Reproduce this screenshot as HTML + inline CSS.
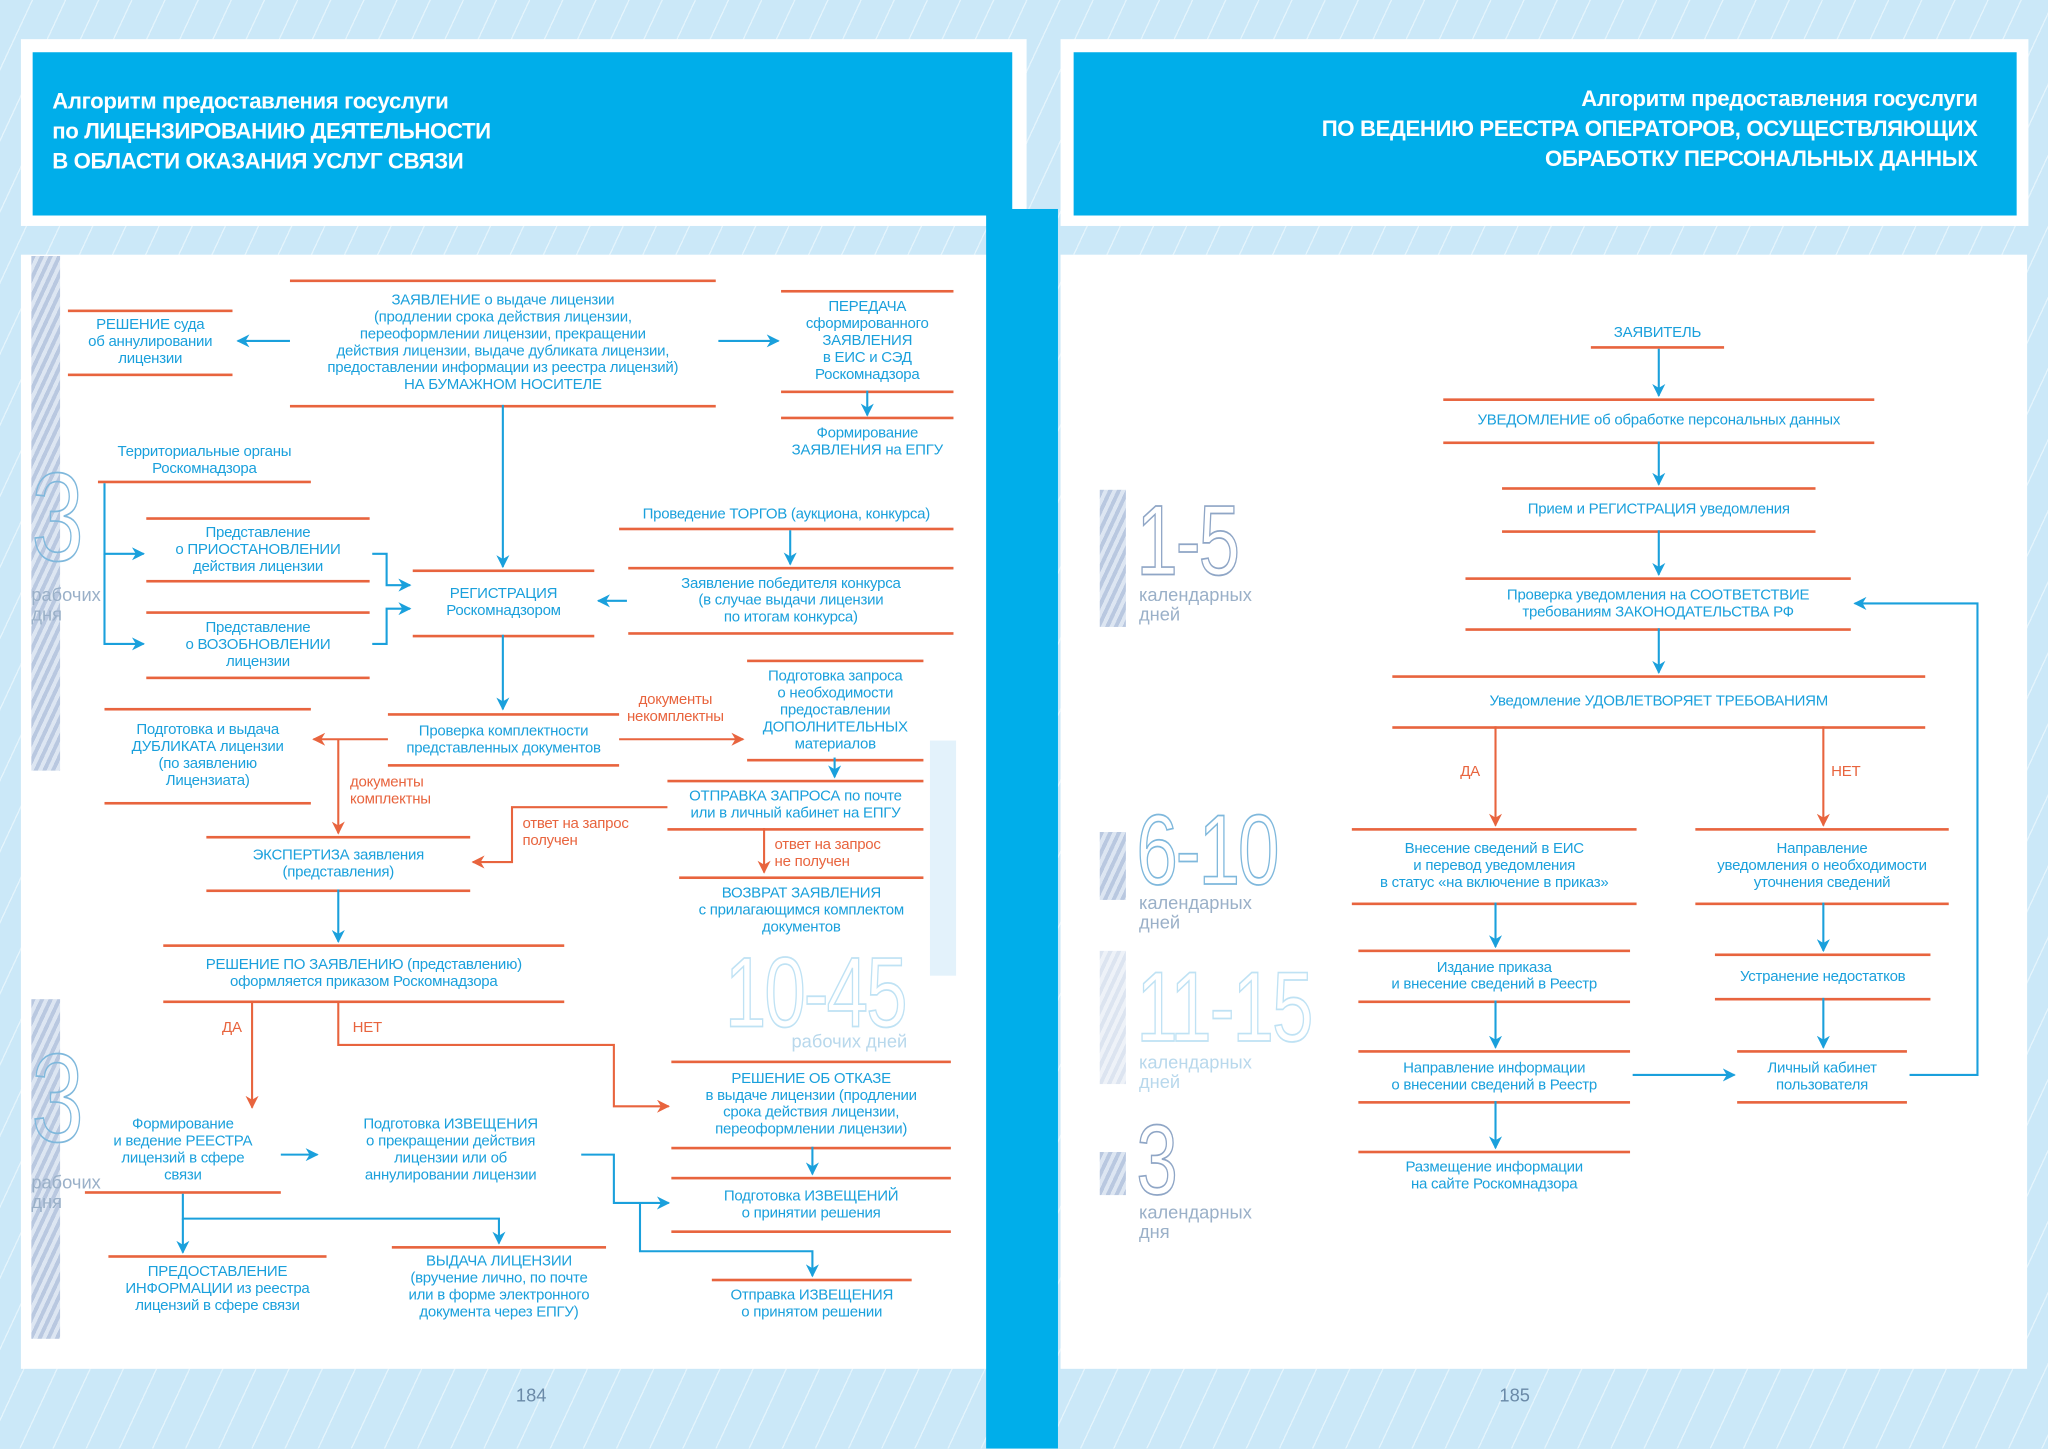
<!DOCTYPE html>
<html><head><meta charset="utf-8"><style>
body{margin:0;width:2048px;height:1448px;overflow:hidden;background:#cfe9f8}
#w{position:absolute;left:0;top:0;width:1568px;height:1109px;transform:scale(1.306122);transform-origin:0 0;font-family:"Liberation Sans","DejaVu Sans",sans-serif;
background:repeating-linear-gradient(115deg,#cbe8f8 0 22px,#e4f4fc 22px 23px)}
.a{position:absolute}
.n{position:absolute;border-top:2px solid #e8643e;border-bottom:2px solid #e8643e;color:#1aa0dc;font-size:11.5px;line-height:13px;text-align:center;display:flex;flex-direction:column;justify-content:center;letter-spacing:-0.2px}
.t{position:absolute;color:#1aa0dc;font-size:11.5px;line-height:13px;text-align:center;letter-spacing:-0.2px}
.o{position:absolute;color:#e8643e;font-size:11.5px;line-height:13px;letter-spacing:-0.2px}
.big{position:absolute;font-size:78px;line-height:78px;color:transparent;-webkit-text-stroke:1.3px #7fb8dc;font-weight:normal;letter-spacing:-2px;transform:scaleX(0.75);transform-origin:0 0}
.lab{position:absolute;color:#9ab0c8;font-size:14px;line-height:15px}
.bar{position:absolute;background:repeating-linear-gradient(115deg,#b9c8e0 0 3px,#dde6f2 3px 6px)}
.h{position:absolute;color:#fff;font-weight:bold;font-size:17px;line-height:23px;letter-spacing:-0.3px}
</style></head><body><div id="w">
<div class="a" style="left:16px;top:30px;width:770px;height:143px;background:#fff"></div>
<div class="a" style="left:25px;top:40px;width:750px;height:125px;background:#00aeea"></div>
<div class="a" style="left:812px;top:30px;width:741px;height:143px;background:#fff"></div>
<div class="a" style="left:822px;top:40px;width:722px;height:125px;background:#00aeea"></div>
<div class="a" style="left:16px;top:195px;width:750px;height:853px;background:#fff"></div>
<div class="a" style="left:812px;top:195px;width:740px;height:853px;background:#fff"></div>
<div class="a" style="left:755px;top:160px;width:55px;height:949px;background:#00aeea"></div>
<div class="h" style="left:40px;top:66px">Алгоритм предоставления госуслуги<br>по ЛИЦЕНЗИРОВАНИЮ ДЕЯТЕЛЬНОСТИ<br>В ОБЛАСТИ ОКАЗАНИЯ УСЛУГ СВЯЗИ</div>
<div class="h" style="right:54px;top:64px;text-align:right">Алгоритм предоставления госуслуги<br>ПО ВЕДЕНИЮ РЕЕСТРА ОПЕРАТОРОВ, ОСУЩЕСТВЛЯЮЩИХ<br>ОБРАБОТКУ ПЕРСОНАЛЬНЫХ ДАННЫХ</div>
<div class="a" style="left:395px;top:1060px;color:#6a8aa8;font-size:14px">184</div>
<div class="a" style="left:1148px;top:1060px;color:#6a8aa8;font-size:14px">185</div>

<div class="bar" style="left:24px;top:196px;width:22px;height:394px"></div>
<div class="bar" style="left:24px;top:765px;width:22px;height:260px"></div>
<div class="bar" style="left:842px;top:375px;width:20px;height:105px"></div>
<div class="bar" style="left:842px;top:637px;width:20px;height:52px"></div>
<div class="bar" style="left:842px;top:728px;width:20px;height:102px;opacity:.5"></div>
<div class="bar" style="left:842px;top:882px;width:20px;height:33px"></div>
<div class="a" style="left:712px;top:567px;width:20px;height:180px;background:#e3f2fb"></div>

<div class="big" style="left:24px;top:358px;font-size:96px">3</div>
<div class="lab" style="left:24px;top:448px">рабочих<br>дня</div>
<div class="big" style="left:24px;top:803px;font-size:96px">3</div>
<div class="lab" style="left:24px;top:898px">рабочих<br>дня</div>
<div class="big" style="left:555px;top:722px;font-size:76px;-webkit-text-stroke-color:#bfe2f4">10-45</div>
<div class="lab" style="left:606px;top:790px;color:#b8d8ec">рабочих дней</div>
<div class="big" style="left:870px;top:376px;font-size:76px;-webkit-text-stroke-color:#8fa6c6">1-5</div>
<div class="lab" style="left:872px;top:448px">календарных<br>дней</div>
<div class="big" style="left:870px;top:613px;font-size:76px">6-10</div>
<div class="lab" style="left:872px;top:684px">календарных<br>дней</div>
<div class="big" style="left:870px;top:733px;font-size:76px;-webkit-text-stroke-color:#bfe2f4">11-15</div>
<div class="lab" style="left:872px;top:806px;color:#b8d8ec">календарных<br>дней</div>
<div class="big" style="left:870px;top:850px;font-size:76px;-webkit-text-stroke-color:#8fa6c6">3</div>
<div class="lab" style="left:872px;top:921px">календарных<br>дня</div>

<div class="n" style="left:222px;top:214px;width:326px;height:94px">ЗАЯВЛЕНИЕ о выдаче лицензии<br>(продлении срока действия лицензии,<br>переоформлении лицензии, прекращении<br>действия лицензии, выдаче дубликата лицензии,<br>предоставлении информации из реестра лицензий)<br>НА БУМАЖНОМ НОСИТЕЛЕ</div>
<div class="n" style="left:52px;top:237px;width:126px;height:47px">РЕШЕНИЕ суда<br>об аннулировании<br>лицензии</div>
<div class="n" style="left:598px;top:222px;width:132px;height:75px">ПЕРЕДАЧА<br>сформированного<br>ЗАЯВЛЕНИЯ<br>в ЕИС и СЭД<br>Роскомнадзора</div>
<div class="n" style="left:598px;top:319px;width:132px;height:36px;border-bottom:none">Формирование<br>ЗАЯВЛЕНИЯ на ЕПГУ</div>
<div class="n" style="left:75px;top:338px;width:163px;height:30px;border-top:none">Территориальные органы<br>Роскомнадзора</div>
<div class="n" style="left:112px;top:396px;width:171px;height:46px">Представление<br>о ПРИОСТАНОВЛЕНИИ<br>действия лицензии</div>
<div class="n" style="left:112px;top:468px;width:171px;height:48px">Представление<br>о ВОЗОБНОВЛЕНИИ<br>лицензии</div>
<div class="n" style="left:316px;top:436px;width:139px;height:48px">РЕГИСТРАЦИЯ<br>Роскомнадзором</div>
<div class="n" style="left:474px;top:384px;width:256px;height:20px;border-top:none">Проведение ТОРГОВ (аукциона, конкурса)</div>
<div class="n" style="left:481px;top:434px;width:249px;height:48px">Заявление победителя конкурса<br>(в случае выдачи лицензии<br>по итогам конкурса)</div>
<div class="n" style="left:297px;top:546px;width:177px;height:37px">Проверка комплектности<br>представленных документов</div>
<div class="n" style="left:572px;top:505px;width:135px;height:74px">Подготовка запроса<br>о необходимости<br>предоставлении<br>ДОПОЛНИТЕЛЬНЫХ<br>материалов</div>
<div class="n" style="left:80px;top:542px;width:158px;height:70px">Подготовка и выдача<br>ДУБЛИКАТА лицензии<br>(по заявлению<br>Лицензиата)</div>
<div class="n" style="left:511px;top:597px;width:196px;height:35px">ОТПРАВКА ЗАПРОСА по почте<br>или в личный кабинет на ЕПГУ</div>
<div class="n" style="left:158px;top:640px;width:202px;height:39px">ЭКСПЕРТИЗА заявления<br>(представления)</div>
<div class="n" style="left:520px;top:671px;width:187px;height:48px;border-bottom:none">ВОЗВРАТ ЗАЯВЛЕНИЯ<br>с прилагающимся комплектом<br>документов</div>
<div class="n" style="left:125px;top:723px;width:307px;height:41px">РЕШЕНИЕ ПО ЗАЯВЛЕНИЮ (представлению)<br>оформляется приказом Роскомнадзора</div>
<div class="n" style="left:514px;top:812px;width:214px;height:64px">РЕШЕНИЕ ОБ ОТКАЗЕ<br>в выдаче лицензии (продлении<br>срока действия лицензии,<br>переоформлении лицензии)</div>
<div class="n" style="left:65px;top:849px;width:150px;height:63px;border-top:none">Формирование<br>и ведение РЕЕСТРА<br>лицензий в сфере<br>связи</div>
<div class="n" style="left:245px;top:849px;width:200px;height:63px;border-top:none;border-bottom:none">Подготовка ИЗВЕЩЕНИЯ<br>о прекращении действия<br>лицензии или об<br>аннулировании лицензии</div>
<div class="n" style="left:514px;top:901px;width:214px;height:39px">Подготовка ИЗВЕЩЕНИЙ<br>о принятии решения</div>
<div class="n" style="left:83px;top:961px;width:167px;height:48px;border-bottom:none">ПРЕДОСТАВЛЕНИЕ<br>ИНФОРМАЦИИ из реестра<br>лицензий в сфере связи</div>
<div class="n" style="left:300px;top:954px;width:164px;height:60px;border-bottom:none">ВЫДАЧА ЛИЦЕНЗИИ<br>(вручение лично, по почте<br>или в форме электронного<br>документа через ЕПГУ)</div>
<div class="n" style="left:545px;top:979px;width:153px;height:36px;border-bottom:none">Отправка ИЗВЕЩЕНИЯ<br>о принятом решении</div>

<div class="o" style="left:480px;top:530px;text-align:center">документы<br>некомплектны</div>
<div class="o" style="left:268px;top:593px">документы<br>комплектны</div>
<div class="o" style="left:400px;top:625px">ответ на запрос<br>получен</div>
<div class="o" style="left:593px;top:641px">ответ на запрос<br>не получен</div>
<div class="o" style="left:170px;top:781px">ДА</div>
<div class="o" style="left:270px;top:781px">НЕТ</div>

<div class="n" style="left:1218px;top:245px;width:102px;height:20px;border-top:none">ЗАЯВИТЕЛЬ</div>
<div class="n" style="left:1105px;top:305px;width:330px;height:31px">УВЕДОМЛЕНИЕ об обработке персональных данных</div>
<div class="n" style="left:1150px;top:373px;width:240px;height:31px">Прием и РЕГИСТРАЦИЯ уведомления</div>
<div class="n" style="left:1122px;top:442px;width:295px;height:37px">Проверка уведомления на СООТВЕТСТВИЕ<br>требованиям ЗАКОНОДАТЕЛЬСТВА РФ</div>
<div class="n" style="left:1066px;top:517px;width:408px;height:37px">Уведомление УДОВЛЕТВОРЯЕТ ТРЕБОВАНИЯМ</div>
<div class="n" style="left:1035px;top:634px;width:218px;height:55px">Внесение сведений в ЕИС<br>и перевод уведомления<br>в статус «на включение в приказ»</div>
<div class="n" style="left:1298px;top:634px;width:194px;height:55px">Направление<br>уведомления о необходимости<br>уточнения сведений</div>
<div class="n" style="left:1040px;top:727px;width:208px;height:37px">Издание приказа<br>и внесение сведений в Реестр</div>
<div class="n" style="left:1313px;top:730px;width:165px;height:32px">Устранение недостатков</div>
<div class="n" style="left:1040px;top:804px;width:208px;height:37px">Направление информации<br>о внесении сведений в Реестр</div>
<div class="n" style="left:1330px;top:804px;width:130px;height:37px">Личный кабинет<br>пользователя</div>
<div class="n" style="left:1040px;top:881px;width:208px;height:36px;border-bottom:none">Размещение информации<br>на сайте Роскомнадзора</div>
<div class="o" style="left:1118px;top:585px">ДА</div>
<div class="o" style="left:1402px;top:585px">НЕТ</div>

<svg class="a" style="left:0;top:0" width="1568" height="1109">
<defs>
<marker id="b" markerWidth="10" markerHeight="10" refX="9" refY="5" orient="auto" markerUnits="userSpaceOnUse"><path d="M0,0 L10,5 L0,10 L3,5z" fill="#1aa0dc"/></marker>
<marker id="r" markerWidth="10" markerHeight="10" refX="9" refY="5" orient="auto" markerUnits="userSpaceOnUse"><path d="M0,0 L10,5 L0,10 L3,5z" fill="#e8643e"/></marker>
</defs>
<g fill="none" stroke="#1aa0dc" stroke-width="1.6" marker-end="url(#b)">
<path d="M222,261 H182"/><path d="M550,261 H596"/><path d="M664,299 V318"/>
<path d="M385,310 V434"/><path d="M605,406 V432"/><path d="M480,460 H458"/>
<path d="M80,370 V424 H110"/><path d="M80,424 V493 H110"/>
<path d="M285,424 H296 V448 H314"/><path d="M285,493 H296 V466 H314"/>
<path d="M385,486 V543"/><path d="M639,580 V595"/>
<path d="M259,681 V721"/>
<path d="M215,884 H243"/>
<path d="M140,914 V933 H382 V952"/><path d="M140,933 V959"/>
<path d="M445,884 H470 V921 H512"/>
<path d="M622,878 V899"/>
<path d="M490,921 V958 H622 V977"/>
<path d="M1270,267 V303"/><path d="M1270,338 V371"/><path d="M1270,406 V440"/><path d="M1270,481 V515"/>
<path d="M1145,691 V725"/><path d="M1145,766 V802"/><path d="M1145,843 V879"/>
<path d="M1396,691 V728"/><path d="M1396,764 V802"/>
<path d="M1250,823 H1328"/>
<path d="M1462,823 H1514 V462 H1420"/>
</g>
<g fill="none" stroke="#e8643e" stroke-width="1.6" marker-end="url(#r)">
<path d="M474,566 H569"/><path d="M297,566 H240"/>
<path d="M259,566 V638"/>
<path d="M511,618 H392 V660 H362"/>
<path d="M585,634 V668"/>
<path d="M193,766 V848"/>
<path d="M259,766 V800 H470 V847 H512"/>
<path d="M1145,556 V632"/><path d="M1396,556 V632"/>
</g>
</svg>
</div></body></html>
